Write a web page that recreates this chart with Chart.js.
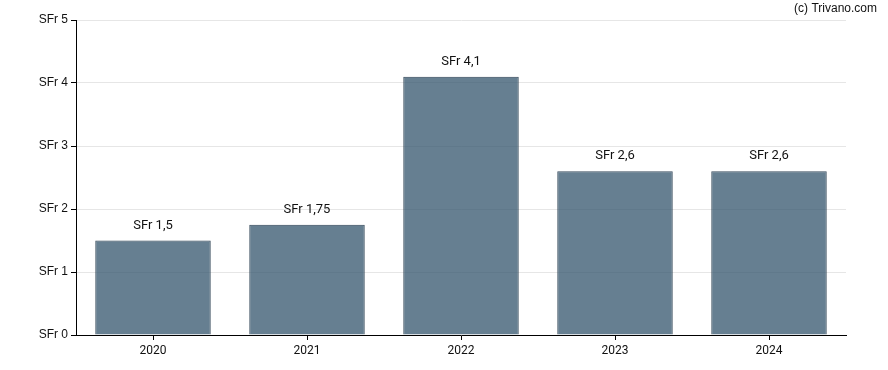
<!DOCTYPE html>
<html>
<head>
  <title>Dividende</title>
  <script src="https://cdn.jsdelivr.net/npm/chart.js"></script>
  <style>
    body { margin: 0; background: #fff; }
    #wrap { width: 888px; height: 370px; }
  </style>
</head>
<body>
  <div id="wrap"><canvas id="divChart" width="888" height="370"></canvas></div>

  <script>
    const years = ['2020', '2021', '2022', '2023', '2024'];
    const dividends = [1.5, 1.75, 4.1, 2.6, 2.6];
    const yTicks = [0, 1, 2, 3, 4, 5];

    const fmt = v => 'SFr ' + String(v).replace('.', ',');

    // Werte über den Balken + Copyright oben rechts
    const labelPlugin = {
      id: 'labels',
      afterDatasetsDraw(chart) {
        const ctx = chart.ctx;
        const meta = chart.getDatasetMeta(0);
        ctx.save();
        ctx.fillStyle = '#111';
        ctx.font = '13px Roboto';
        ctx.textAlign = 'center';
        ctx.textBaseline = 'alphabetic';
        meta.data.forEach((bar, i) => {
          ctx.fillText(fmt(dividends[i]), bar.x, bar.y - 12);
        });
        ctx.font = '12px "Liberation Sans", Arial';
        ctx.textAlign = 'right';
        ctx.fillText('(c) Trivano.com', 877, 12);
        ctx.restore();
      }
    };

    new Chart(document.getElementById('divChart'), {
      type: 'bar',
      data: {
        labels: years,
        datasets: [{
          data: dividends,
          backgroundColor: 'rgba(51, 84, 108, 0.75)',
          borderColor: 'rgba(36, 58, 76, 0.9)',
          borderWidth: 1,
          barPercentage: 1,
          categoryPercentage: 0.75
        }]
      },
      options: {
        responsive: false,
        animation: false,
        layout: { padding: { top: 20, right: 42, left: 0, bottom: 0 } },
        plugins: { legend: { display: false }, tooltip: { enabled: false } },
        scales: {
          x: {
            grid: { drawOnChartArea: false, offset: false, tickColor: '#000', tickLength: 5 },
            border: { color: '#000' },
            ticks: { color: '#111', font: { family: 'Roboto', size: 12 }, padding: 4 },
            afterFit: s => { s.height = 35; }
          },
          y: {
            min: 0, max: 5,
            afterBuildTicks: s => { s.ticks = yTicks.map(v => ({ value: v })); },
            grid: { color: '#e6e6e6', tickColor: '#000', tickLength: 5 },
            border: { color: '#000' },
            ticks: {
              color: '#111',
              font: { family: '"Liberation Sans", Arial', size: 12 },
              padding: 3,
              callback: v => fmt(v)
            },
            afterFit: s => { s.width = 76; }
          }
        }
      },
      plugins: [labelPlugin]
    });
  </script>
</body>
</html>
